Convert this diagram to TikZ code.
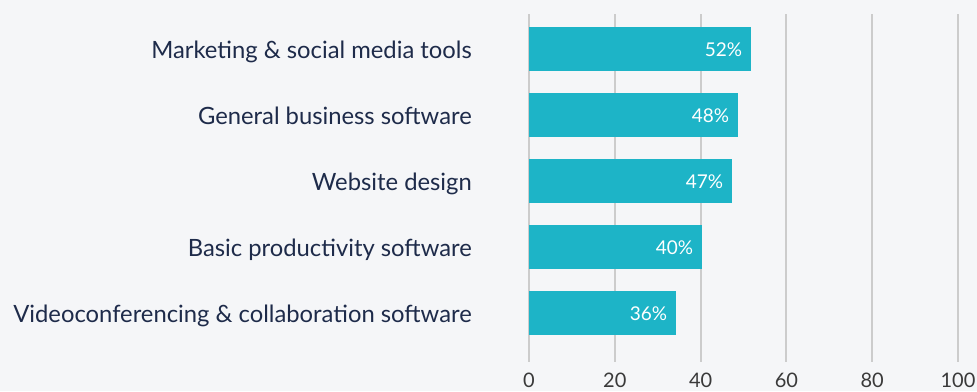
\documentclass[tikz,border=0pt]{standalone}
\usepackage{fontspec}
\setmainfont{Lato}
\usepackage{xcolor}
\usepackage{tikz}
\usetikzlibrary{
  positioning,
  calc
}
\definecolor{barcol}{HTML}{1DB4C7}
\definecolor{labcol}{HTML}{1E2B4A}
\definecolor{gridcol}{HTML}{CCCCCC}
\definecolor{bgcol}{HTML}{F5F6F8}
\definecolor{tickcol}{HTML}{3A3A3A}

\begin{document}
\begin{tikzpicture}[x=1pt,y=-1pt,
  bar/.style={fill=barcol,draw=none,inner sep=0pt,minimum height=44pt,anchor=west},
  catlabel/.style={anchor=base east,inner sep=0pt,text=labcol,font=\fontsize{23.8}{26}\selectfont},
  pctlabel/.style={anchor=base east,inner sep=0pt,text=white,font=\fontsize{19}{22}\selectfont},
  ticklabel/.style={anchor=base,inner sep=0pt,text=tickcol,font=\fontsize{20}{22}\selectfont},
  gridline/.style={draw=gridcol,line width=2pt}]
  % 背景
  \fill[bgcol] (0,0) rectangle (977,391);
  \useasboundingbox (0,0) rectangle (977,391);
  % 原点と目盛り
  \coordinate (O) at (529,0);
  \foreach \v in {0,20,...,100}{
    \coordinate (gtop\v) at ($(O)+(\v*4.29,14)$);
    \coordinate (gbot\v) at ($(O)+(\v*4.29,362)$);
    \draw[gridline] (gtop\v)--(gbot\v);
    \node[ticklabel] (tick\v) at ($(O)+(\v*4.29,387)$) {\v};
  }
  % 棒グラフ
  \foreach \i/\val/\w/\txt in {
      1/52/222/Marketing \& social media tools,
      2/48/209/General business software,
      3/47/203/Website design,
      4/40/173/Basic productivity software,
      5/36/147/Videoconferencing \& collaboration software}{
    \node[bar,minimum width=\w pt] (bar\i) at ($(O)+(0,49+66*\i-66)$) {};
    \node[pctlabel] (pct\i) at ([xshift=-9pt,yshift=-7pt]bar\i.east) {\val\%};
    \node[catlabel] (cat\i) at ([xshift=-57pt,yshift=-9.5pt]bar\i.west) {\txt};
  }
\end{tikzpicture}
\end{document}
